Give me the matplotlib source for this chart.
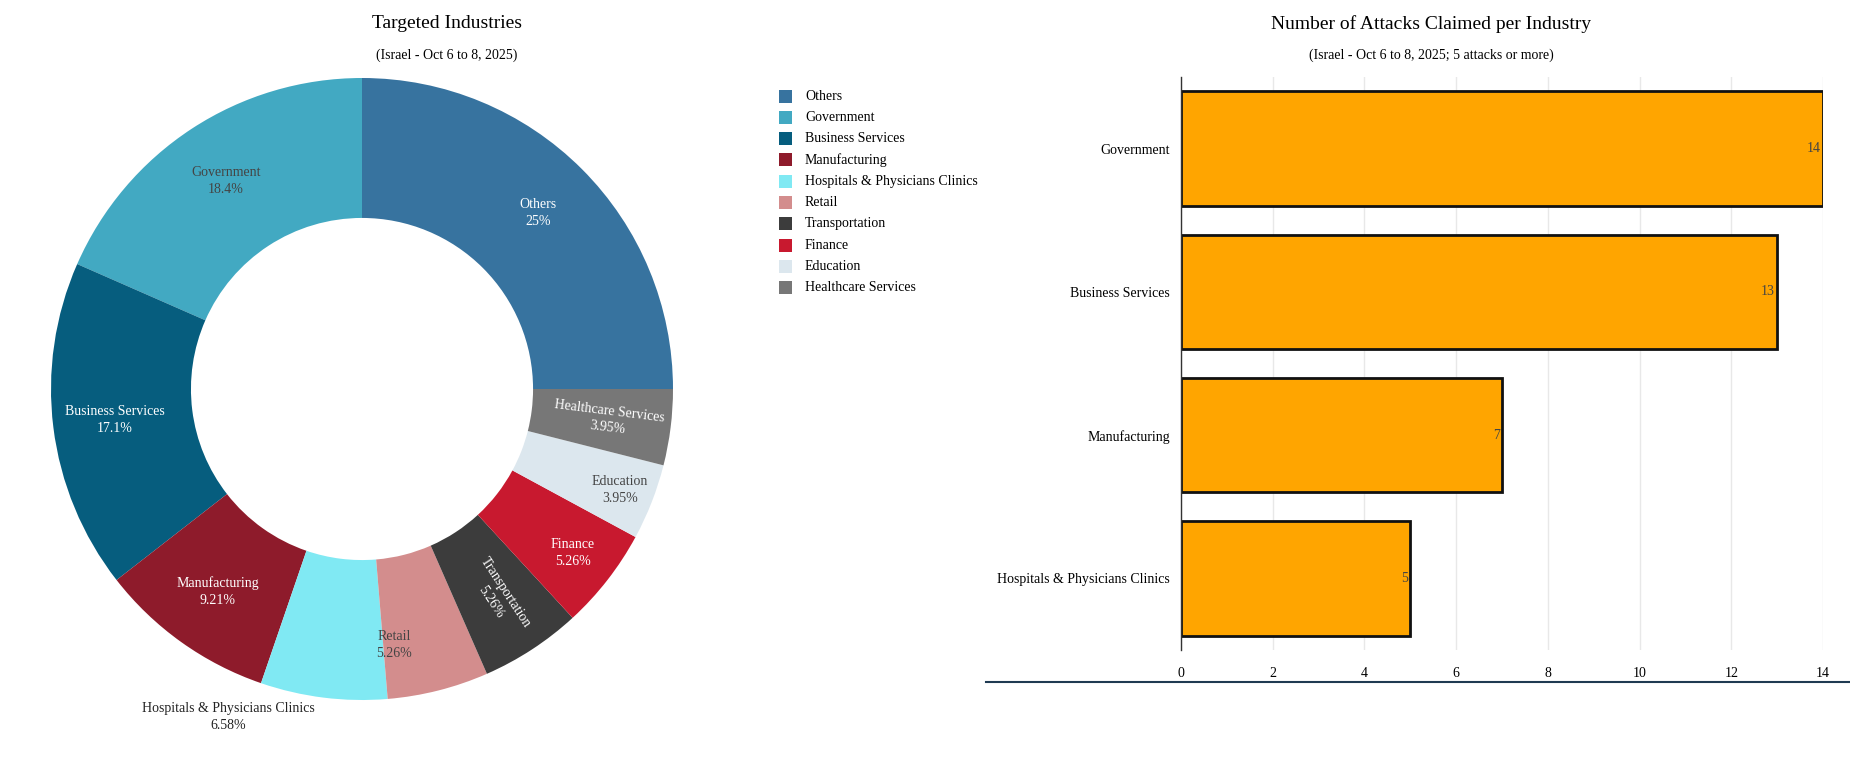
import numpy as np
import matplotlib
matplotlib.use("Agg")
import matplotlib.pyplot as plt
from matplotlib.lines import Line2D
from matplotlib.patches import Rectangle

plt.rcParams["font.family"] = ["Liberation Serif", "DejaVu Serif"]

# donut data (attack counts, 76 in total)
industries = ["Others", "Government", "Business Services", "Manufacturing",
              "Hospitals & Physicians Clinics", "Retail", "Transportation",
              "Finance", "Education", "Healthcare Services"]
counts = [19, 14, 13, 7, 5, 4, 4, 4, 3, 3]
colors = ["#37739f", "#42a9c2", "#065d7e", "#8e1b2b", "#80e9f3",
          "#d38d8d", "#3c3c3c", "#c8192f", "#dce7ee", "#777777"]
label_colors = ["white", "#444444", "white", "white", "#222222",
                "#444444", "white", "white", "#444444", "white"]

# bar data
bar_labels = ["Government", "Business Services", "Manufacturing",
              "Hospitals & Physicians Clinics"]
bar_values = [14, 13, 7, 5]

W, H = 1850, 758
fig = plt.figure(figsize=(W / 100, H / 100), dpi=100)
fig.patch.set_facecolor("white")


def px_axes(left, top, right, bottom):
    return fig.add_axes([left / W, 1 - bottom / H, (right - left) / W, (bottom - top) / H])


# ---- donut ----
cx, cy, R = 362, 389, 311
ax = px_axes(cx - R, cy - R, cx + R, cy + R)
hole = 0.55
wedges, _ = ax.pie(counts, colors=colors, startangle=0, counterclock=True,
                   radius=1.0, wedgeprops=dict(width=1 - hole, linewidth=0))
ax.set_xlim(-1, 1)
ax.set_ylim(-1, 1)
ax.set_aspect("equal")
ax.axis("off")

total = sum(counts)
# per-label radius / angle shift / rotation tweaks
lab_r = {"Finance": 0.86, "Education": 0.89, "Retail": 0.83}
lab_da = {"Retail": -7}
radial = {"Transportation", "Healthcare Services"}
for w, name, n, tc in zip(wedges, industries, counts, label_colors):
    pct = "{:.3g}%".format(100 * n / total)
    mid = 0.5 * (w.theta1 + w.theta2)
    if name.startswith("Hospitals"):
        a = np.radians(mid - 15)
        x, y = 1.14 * np.cos(a), 1.14 * np.sin(a)
        ax.text(x, y, f"{name}\n{pct}", ha="center", va="center",
                fontsize=10, color=tc, clip_on=False, linespacing=1.4)
        continue
    a = np.radians(mid + lab_da.get(name, 0))
    r = lab_r.get(name, 0.80)
    rot = mid - 360 if name in radial else 0
    ax.text(r * np.cos(a), r * np.sin(a), f"{name}\n{pct}", ha="center",
            va="center", fontsize=10, color=tc, rotation=rot,
            rotation_mode="anchor", linespacing=1.4)

fig.text(447 / W, 1 - 24 / H, "Targeted Industries", ha="center", va="center", fontsize=14)
fig.text(447 / W, 1 - 55 / H, "(Israel - Oct 6 to 8, 2025)", ha="center", va="center", fontsize=10)

# legend
for i, (name, c) in enumerate(zip(industries, colors)):
    yy = 96 + i * 21.3
    fig.patches.append(Rectangle((779 / W, 1 - (yy + 6.5) / H), 13 / W, 13 / H,
                                 transform=fig.transFigure, facecolor=c,
                                 edgecolor="none"))
    fig.text(805 / W, 1 - yy / H, name, ha="left", va="center", fontsize=10)

# ---- bars ----
bx = px_axes(1181, 77, 1823, 650)
ypos = np.arange(len(bar_labels))
bx.barh(ypos, bar_values, height=0.8, color="#ffa500", edgecolor="#111111", linewidth=2)
for yv, v in zip(ypos, bar_values):
    bx.text(v - 0.05, yv, str(v), ha="right", va="center", fontsize=10, color="#444444")
bx.set_yticks(ypos)
bx.set_yticklabels(bar_labels, fontsize=10)
bx.set_xlim(0, 14)
bx.set_ylim(3.5, -0.5)
bx.set_xticks(range(0, 15, 2))
bx.tick_params(axis="x", length=0, labelsize=10, pad=12)
bx.tick_params(axis="y", length=0, pad=8)
bx.grid(axis="x", color="#e8e8e8", linewidth=1)
bx.set_axisbelow(True)
for s in ["top", "right", "bottom"]:
    bx.spines[s].set_visible(False)
bx.spines["left"].set_color("#333333")
bx.spines["left"].set_linewidth(1)

fig.text(1431 / W, 1 - 24 / H, "Number of Attacks Claimed per Industry",
         ha="center", va="center", fontsize=14)
fig.text(1431 / W, 1 - 55 / H, "(Israel - Oct 6 to 8, 2025; 5 attacks or more)",
         ha="center", va="center", fontsize=10)

fig.lines.append(Line2D([986 / W, 1.0], [1 - 682 / H] * 2, transform=fig.transFigure,
                        color="#1f3a52", linewidth=1.5))

fig.savefig("out.png", dpi=100, facecolor="white")
